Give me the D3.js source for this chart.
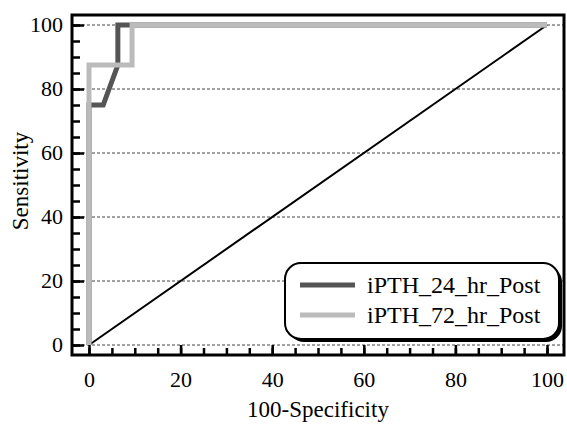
<!DOCTYPE html>
<html>
<head>
<meta charset="utf-8">
<script src="https://cdn.jsdelivr.net/npm/d3@7"></script>
<style>
  body { margin: 0; background: #fff; }
  svg { display: block; }
</style>
</head>
<body>
<div id="chart"></div>
<script>
// ROC curve points (100-Specificity, Sensitivity)
const fpr24 = [0, 0, 3.1, 6.3, 6.3, 100]
const sens24 = [0, 75, 75, 87.5, 100, 100]
const fpr72 = [0, 0, 9.4, 9.4, 100]
const sens72 = [0, 87.5, 87.5, 100, 100]
const refLine = [0, 100]

const seriesNames = ['iPTH_24_hr_Post', 'iPTH_72_hr_Post']
const seriesColors = ['#555555', '#bbbbbb']

const majorTicks = [0, 20, 40, 60, 80, 100]
const minorTicks = d3.range(0, 101, 5)

const width = 567, height = 426
const frame = {left: 72, top: 15, right: 564, bottom: 355}
const serif = '"Liberation Serif", "Times New Roman", Times, serif'

let svg = d3.select('#chart').append('svg')
  .attr('width', width)
  .attr('height', height)
  .style('font-family', serif)

let x = d3.scaleLinear().domain([0, 100]).range([89, 547])
let y = d3.scaleLinear().domain([0, 100]).range([345, 25])

// dashed grid
svg.append('g').selectAll('line')
  .data(majorTicks)
  .enter().append('line')
  .attr('x1', frame.left).attr('x2', frame.right)
  .attr('y1', d => y(d)).attr('y2', d => y(d))
  .attr('stroke', '#444')
  .attr('stroke-width', 1)
  .attr('stroke-dasharray', '3,2')

// y axis ticks (inward)
let yMinor = svg.append('g').attr('transform', 'translate(' + frame.left + ',0)')
  .call(d3.axisLeft(y).tickValues(minorTicks).tickSize(-8).tickFormat(''))
let yMajor = svg.append('g').attr('transform', 'translate(' + frame.left + ',0)')
  .call(d3.axisLeft(y).tickValues(majorTicks).tickSize(-12).tickPadding(9).tickFormat(d3.format('d')))

// x axis ticks (inward)
let xMinor = svg.append('g').attr('transform', 'translate(0,' + frame.bottom + ')')
  .call(d3.axisBottom(x).tickValues(minorTicks).tickSize(-7).tickFormat(''))
let xMajor = svg.append('g').attr('transform', 'translate(0,' + frame.bottom + ')')
  .call(d3.axisBottom(x).tickValues(majorTicks).tickSize(-10).tickFormat(d3.format('d')))

;[yMinor, yMajor, xMinor, xMajor].forEach(g => {
  g.attr('font-family', serif).attr('font-size', 22)
  g.select('.domain').remove()
  g.selectAll('line').attr('stroke', '#000').attr('stroke-width', 2.5)
  g.selectAll('text').attr('fill', '#000')
})
yMajor.selectAll('text').attr('dy', '0.3em')
xMajor.selectAll('text').attr('y', 32).attr('dy', 0)

// reference diagonal
let line = d3.line()
  .x(d => x(d[0]))
  .y(d => y(d[1]))

svg.append('path')
  .datum(d3.zip(refLine, refLine))
  .attr('d', line)
  .attr('fill', 'none')
  .attr('stroke', '#000')
  .attr('stroke-width', 2)

// ROC curves, 72 hr drawn on top
svg.append('path')
  .datum(d3.zip(fpr24, sens24))
  .attr('d', line)
  .attr('fill', 'none')
  .attr('stroke', seriesColors[0])
  .attr('stroke-width', 5)

svg.append('path')
  .datum(d3.zip(fpr72, sens72))
  .attr('d', line)
  .attr('fill', 'none')
  .attr('stroke', seriesColors[1])
  .attr('stroke-width', 5)

// frame
svg.append('rect')
  .attr('x', frame.left).attr('y', frame.top)
  .attr('width', frame.right - frame.left)
  .attr('height', frame.bottom - frame.top)
  .attr('fill', 'none')
  .attr('stroke', '#000')
  .attr('stroke-width', 3)

// axis titles
svg.append('text')
  .attr('x', (frame.left + frame.right) / 2)
  .attr('y', 417)
  .attr('text-anchor', 'middle')
  .attr('font-size', 23)
  .text('100-Specificity')

svg.append('text')
  .attr('transform', 'translate(28,181) rotate(-90)')
  .attr('text-anchor', 'middle')
  .attr('font-size', 23)
  .text('Sensitivity')

// legend
let legend = svg.append('g').attr('transform', 'translate(285,263)')
legend.append('rect')
  .attr('x', 3).attr('y', 3)
  .attr('width', 274).attr('height', 76)
  .attr('rx', 16)
  .attr('fill', '#000')
legend.append('rect')
  .attr('width', 274).attr('height', 76)
  .attr('rx', 16)
  .attr('fill', '#fff')
  .attr('stroke', '#000')
  .attr('stroke-width', 2)

seriesNames.forEach((name, i) => {
  let row = legend.append('g').attr('transform', 'translate(0,' + (22 + i * 30) + ')')
  row.append('line')
    .attr('x1', 15).attr('x2', 70)
    .attr('stroke', seriesColors[i])
    .attr('stroke-width', 5)
  row.append('text')
    .attr('x', 82)
    .attr('dy', '0.33em')
    .attr('font-size', 24)
    .text(name)
})
</script>
</body>
</html>
